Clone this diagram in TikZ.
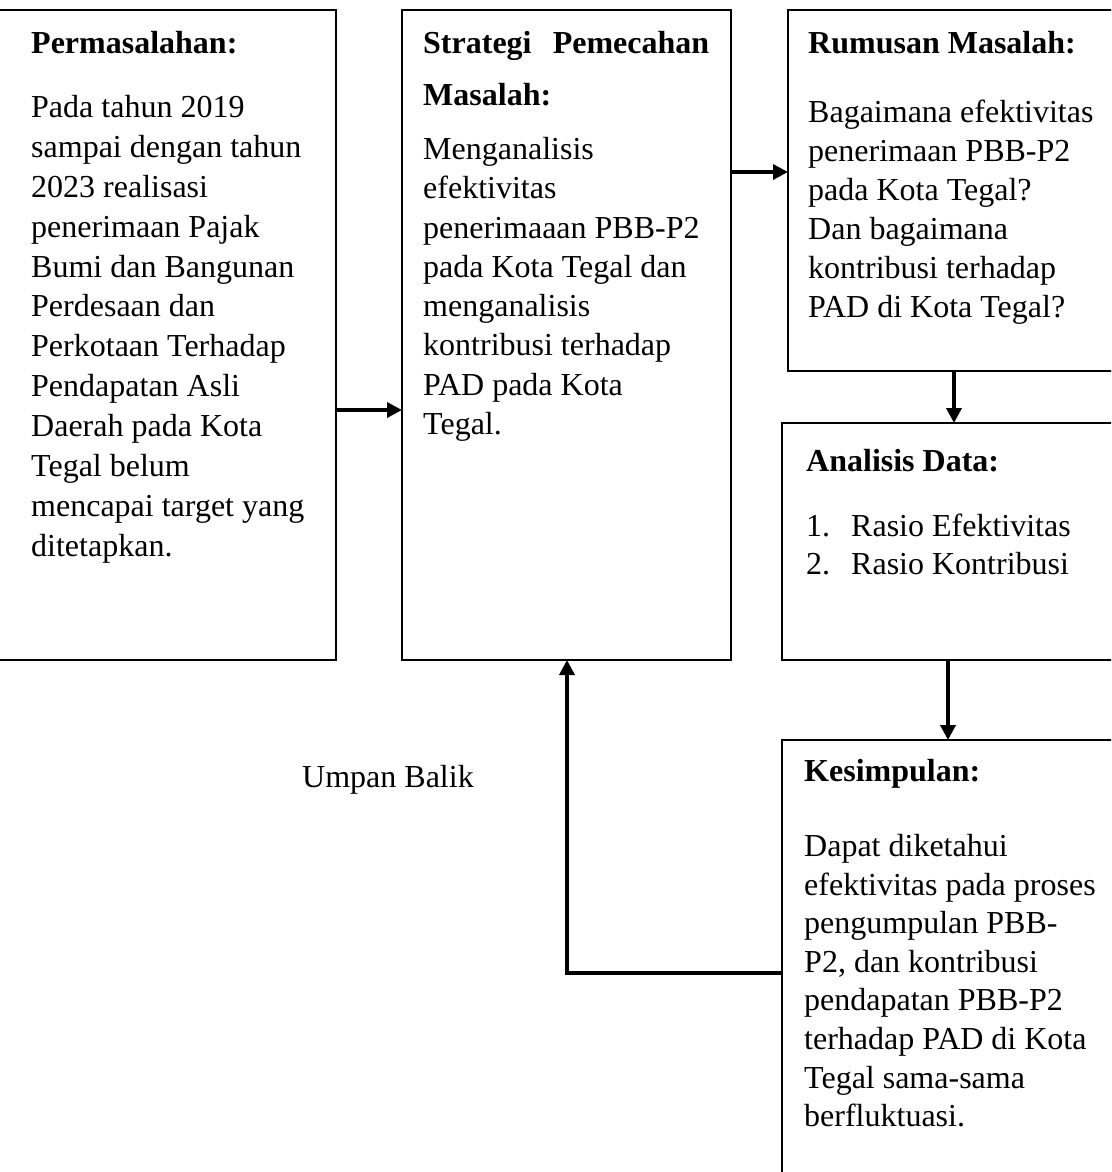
\documentclass[tikz,border=0pt]{standalone}
\usepackage{fontspec}
\setmainfont{Liberation Serif}
\usetikzlibrary{arrows.meta}

\begin{document}
\begin{tikzpicture}[x=1pt,y=-1pt,
  box/.style={draw=black,line width=1.5pt,outer sep=0pt,inner sep=0pt,anchor=north west},
  head/.style={anchor=north west,inner sep=0pt,font=\fontsize{32}{39.5}\selectfont\bfseries},
  body/.style={anchor=north west,inner sep=0pt,align=left,font=\fontsize{32}{#1}\selectfont},
  body/.default=39.5,
  flow/.style={line width=3.5pt,-{Triangle[length=15pt,width=15pt]}}]
\useasboundingbox (0,0) rectangle (1111,1172);
\clip (0,0) rectangle (1111,1172);
\node [box,minimum width=338pt,minimum height=650pt] (masalah) at (-2,10) {};
\node [box,minimum width=329pt,minimum height=650pt] (strategi) at (402,10) {};
\node [box,minimum width=332pt,minimum height=361pt] (rumusan) at (788,10) {};
\node [box,minimum width=338pt,minimum height=237pt] (analisis) at (782,423) {};
\node [box,minimum width=338pt,minimum height=450pt] (simpulan) at (782,740) {};
\node [head] (hMasalah) at (31,31) {Permasalahan:};
\node [body=39.9] (tMasalah) at (31,95) {Pada tahun 2019\\sampai dengan tahun\\2023 realisasi\\penerimaan Pajak\\Bumi dan Bangunan\\Perdesaan dan\\Perkotaan Terhadap\\Pendapatan Asli\\Daerah pada Kota\\Tegal belum\\mencapai target yang\\ditetapkan.};
\node [head] (hStrategi) at (423,31) {\hbox to 286pt{Strategi\hfill Pemecahan}};
\node [head] (hStrategiB) at (423,83) {Masalah:};
\node [body=39.3] (tStrategi) at (423,137) {Menganalisis\\efektivitas\\penerimaaan PBB-P2\\pada Kota Tegal dan\\menganalisis\\kontribusi terhadap\\PAD pada Kota\\Tegal.};
\node [head] (hRumusan) at (808,31) {Rumusan Masalah:};
\node [body=39] (tRumusan) at (808,100) {Bagaimana efektivitas\\penerimaan PBB-P2\\pada Kota Tegal?\\Dan bagaimana\\kontribusi terhadap\\PAD di Kota Tegal?};
\node [head] (hAnalisis) at (806,449) {Analisis Data:};
\node [body=38] (tAnalisis) at (806,514) {\makebox[45pt][l]{1.}Rasio Efektivitas\\\makebox[45pt][l]{2.}Rasio Kontribusi};
\node [head] (hSimpulan) at (804,759) {Kesimpulan:};
\node [body=38.6] (tSimpulan) at (804,834) {Dapat diketahui\\efektivitas pada proses\\pengumpulan PBB-\\P2, dan kontribusi\\pendapatan PBB-P2\\terhadap PAD di Kota\\Tegal sama-sama\\berfluktuasi.};
\node [body] (umpan) at (302,765) {Umpan Balik};
\coordinate (yA) at (0,410);
\coordinate (yB) at (0,172);
\coordinate (xC) at (954,0);
\coordinate (xD) at (948,0);
\coordinate (yE) at (0,973);
\coordinate (xE) at (567,0);
\draw [flow] (masalah.east |- yA) -- (strategi.west |- yA);
\draw [flow] (strategi.east |- yB) -- (rumusan.west |- yB);
\draw [flow] (rumusan.south -| xC) -- (analisis.north -| xC);
\draw [flow] (analisis.south -| xD) -- (simpulan.north -| xD);
\draw [flow] (simpulan.west |- yE) -| (strategi.south -| xE);
\end{tikzpicture}
\end{document}
